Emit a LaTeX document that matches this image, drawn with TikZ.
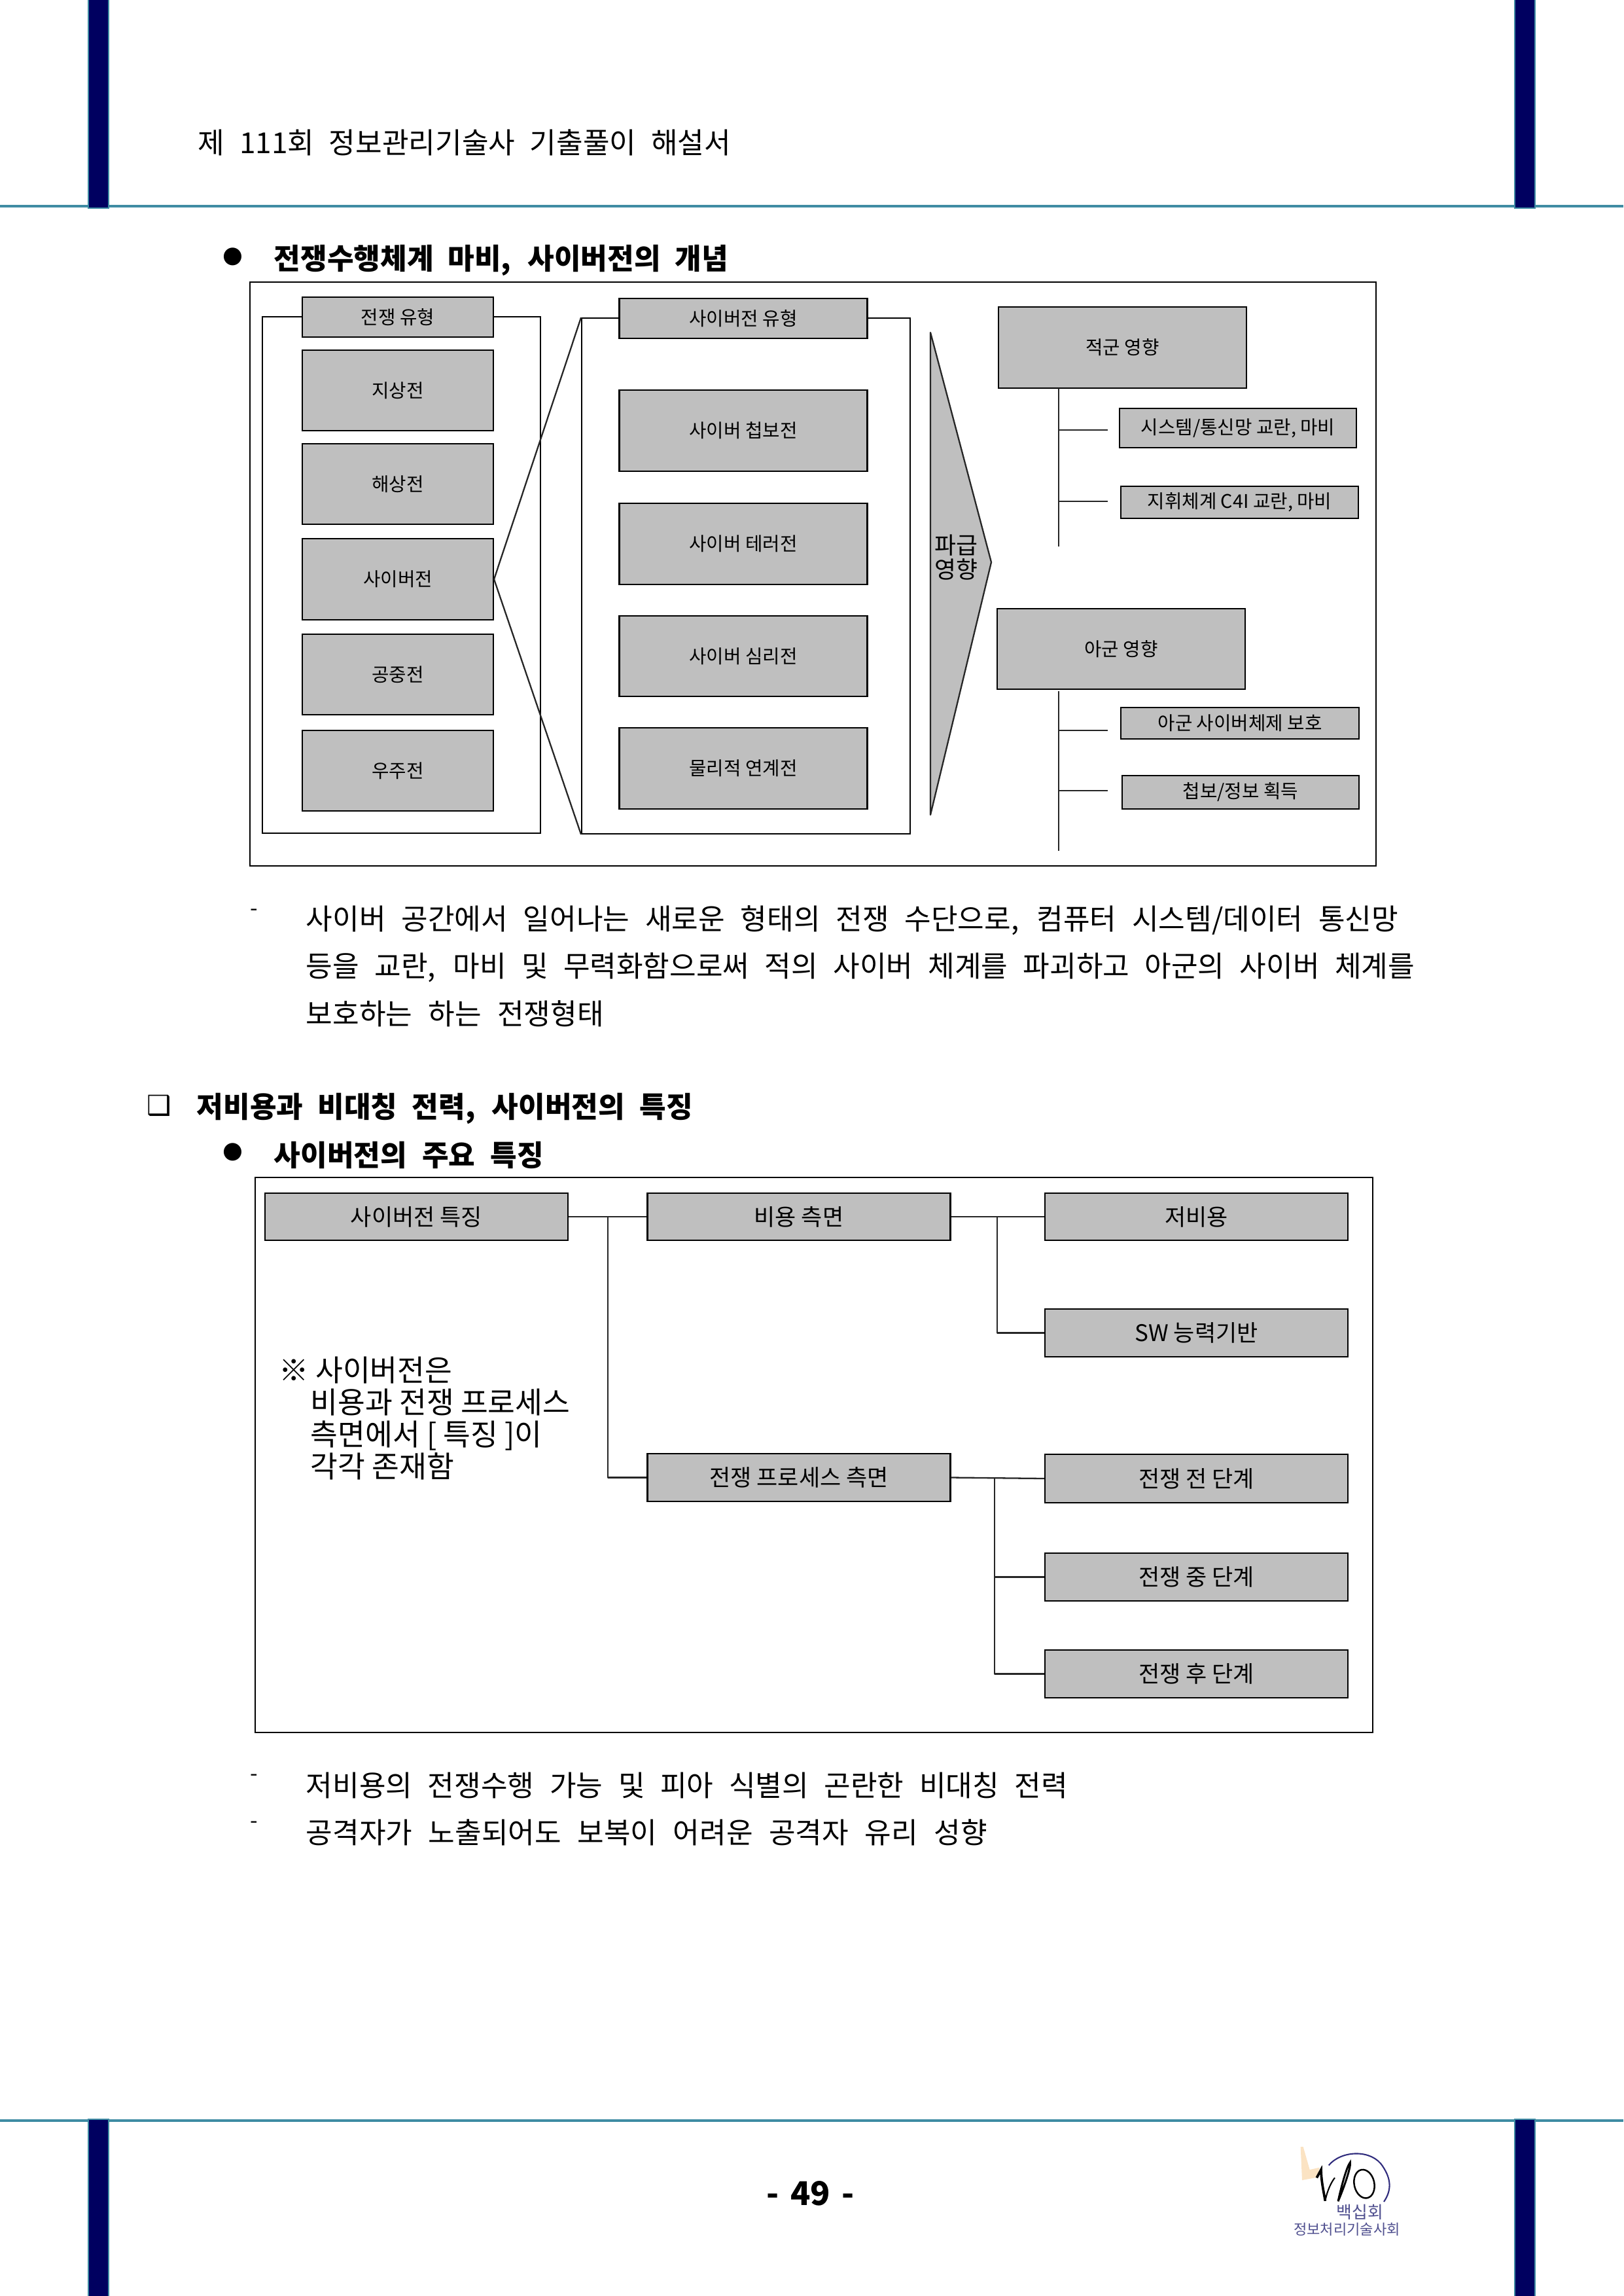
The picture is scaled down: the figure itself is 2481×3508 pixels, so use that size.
\documentclass[tikz,border=0pt]{standalone}
\usepackage{fontspec}
\setmainfont{Noto Sans CJK KR}
\newfontfamily\symfont{DejaVu Sans}
\usetikzlibrary{calc}
\definecolor{barnavy}{HTML}{000060}
\definecolor{barteal}{HTML}{3F8CA3}
\definecolor{cellgray}{HTML}{BFBFBF}
\definecolor{logoblue}{HTML}{2F2B7C}
\definecolor{logoink}{HTML}{50508F}
\definecolor{logosand}{HTML}{FBE3C3}

\begin{document}
\begin{tikzpicture}[x=0.24pt,y=-0.24pt,
  cell/.style={draw=black,fill=cellgray,line width=0.5pt,inner sep=0pt,align=center},
  cella/.style={cell,font=\fontsize{6.9}{8}\selectfont},
  cellb/.style={cell,font=\fontsize{8.4}{10}\selectfont},
  frame/.style={draw=black,line width=0.45pt,inner sep=0pt},
  panel/.style={draw=black,line width=0.7pt,inner sep=0pt},
  wire/.style={draw=black!85,line width=0.55pt,line join=round},
  body/.style={anchor=west,inner sep=0pt,font=\fontsize{10.6}{12}\selectfont},
  head/.style={body,font=\fontsize{10.6}{12}\selectfont\bfseries},
  rib/.style={fill=barnavy,draw=barteal,line width=0.5pt},
  rule/.style={draw=barteal,line width=0.9pt}]
  \useasboundingbox (0,0) rectangle (2481,3508);

  % page furniture
  \draw[rule] (0,315)--(2481,315);
  \draw[rule] (0,3240)--(2481,3240);
  \foreach \x in {135,2315}{
    \filldraw[rib] (\x,-5) rectangle ++(31,323);
    \filldraw[rib] (\x,3238) rectangle ++(31,275);
  }
  \node[body] (title) at (302,218) {\makebox[195.4pt][s]{제 111회 정보관리기술사 기출풀이 해설서}};
  \node[inner sep=0pt,font=\symfont\fontsize{8.5}{12}\selectfont] (dot1) at (356,392) {●};
  \node[head] (headA) at (418,398) {\makebox[166.6pt][s]{전쟁수행체계 마비, 사이버전의 개념}};

  % upper panel
  \begin{scope}[xshift=0.24pt]
  \node[panel,minimum width=1721*0.24pt,minimum height=892*0.24pt] (panelA) at (1241.5,877) {};
  \node[frame,minimum width=425*0.24pt,minimum height=789*0.24pt] (frameL) at (612.5,878.5) {};
  \node[frame,minimum width=502*0.24pt,minimum height=788*0.24pt] (frameM) at (1139,880) {};
  \foreach \n/\x/\y/\w/\h/\t in {
    kind/607/484.5/292/61/전쟁 유형, ground/607/596.5/292/123/지상전,
    sea/607/739.5/292/123/해상전, cyber/607/885/292/124/사이버전,
    air/607/1030.5/292/123/공중전, space/607/1177.5/292/123/우주전,
    ctype/1135/486.5/379/61/사이버전 유형, spy/1135/658/379/124/사이버 첩보전,
    terror/1135/831/379/124/사이버 테러전, psy/1135/1002.5/379/123/사이버 심리전,
    phys/1135/1174/379/124/물리적 연계전,
    enemy/1714.5/531/379/124/적군 영향, ally/1712.5/991.5/379/123/아군 영향,
    sys/1891/654/362/60/{시스템/통신망 교란, 마비}, cfour/1893.5/767.5/363/49/{지휘체계 C4I 교란, 마비},
    prot/1894/1105/364/48/아군 사이버체제 보호, intel/1895/1210.5/362/51/{첩보/정보 획득}}{
    \node[cella,minimum width=\w*0.24pt,minimum height=\h*0.24pt] (\n) at (\x,\y) {\raisebox{-1pt}{\t}};
  }
  \draw[wire] (cyber.east)--(frameM.north west);
  \draw[wire] (cyber.east)--(frameM.south west);
  \filldraw[wire,fill=cellgray] (1421,508)--(1514,859)--(1421,1245)--cycle;
  \node[inner sep=0pt,align=center,font=\fontsize{8.6}{8.9}\selectfont] (spread) at (1460,852) {파급\\영향};
  \coordinate (etop) at (1617,593);
  \coordinate (ebot) at (1617,835);
  \coordinate (atop) at (1617,1056);
  \coordinate (abot) at (1617,1300);
  \draw[wire] (etop)--(ebot);
  \draw[wire] (atop)--(abot);
  \foreach \n/\y in {ea/657,eb/766,aa/1116,ab/1208}{
    \coordinate (\n l) at (1617,\y);
    \coordinate (\n r) at (1692,\y);
    \draw[wire] (\n l)--(\n r);
  }
  \end{scope}

  \node[inner sep=0pt,font=\fontsize{8}{9}\selectfont] (dashA) at (388,1394) {-};
  \node[body] (lineA) at (467,1406) {\makebox[400.6pt][s]{사이버 공간에서 일어나는 새로운 형태의 전쟁 수단으로, 컴퓨터 시스템/데이터 통신망}};
  \node[body] (lineB) at (467,1478) {\makebox[406.6pt][s]{등을 교란, 마비 및 무력화함으로써 적의 사이버 체계를 파괴하고 아군의 사이버 체계를}};
  \node[body] (lineC) at (467,1549) {\makebox[109.2pt][s]{보호하는 하는 전쟁형태}};

  \node[inner sep=0pt,font=\symfont\fontsize{10}{12}\selectfont] (boxB) at (243,1689) {❑};
  \node[head] (headB) at (300,1694) {\makebox[181.9pt][s]{저비용과 비대칭 전력, 사이버전의 특징}};
  \node[inner sep=0pt,font=\symfont\fontsize{8.5}{12}\selectfont] (dot2) at (356,1760) {●};
  \node[head] (headC) at (418,1765) {\makebox[98.9pt][s]{사이버전의 주요 특징}};

  % lower panel
  \begin{scope}[xshift=0.24pt]
  \node[panel,minimum width=1708*0.24pt,minimum height=848*0.24pt] (panelB) at (1243,2223) {};
  \foreach \n/\x/\y/\h/\t in {
    feat/635.5/1859/72/사이버전 특징, cost/1220/1859/72/비용 측면, low/1827.5/1859/72/저비용,
    sw/1827.5/2036.5/73/SW 능력기반, proc/1220/2257.5/73/전쟁 프로세스 측면,
    pre/1827.5/2259/74/전쟁 전 단계, during/1827.5/2409.5/73/전쟁 중 단계, post/1827.5/2557.5/73/전쟁 후 단계}{
    \node[cellb,minimum width=463*0.24pt,minimum height=\h*0.24pt] (\n) at (\x,\y) {\raisebox{-1pt}{\t}};
  }
  \coordinate (forkA) at (928,1859);
  \coordinate (forkB) at (1523,1859);
  \coordinate (forkC) at (1519,2258);
  \draw[wire] (feat.east)--(cost.west);
  \draw[wire] (forkA) |- (proc.west);
  \draw[wire] (cost.east)--(low.west);
  \draw[wire] (forkB) |- (sw.west);
  \draw[wire] (proc.east)--(pre.west);
  \draw[wire] (forkC) |- (during.west);
  \draw[wire] (forkC) |- (post.west);
  \end{scope}
  \node[anchor=north west,inner sep=0pt,align=left,font=\fontsize{10.9}{11.75}\selectfont] (noteB) at (426,2072)
    {※ 사이버전은\\\hspace*{11.5pt}비용과 전쟁 프로세스\\\hspace*{11.5pt}측면에서 [ 특징 ]이\\\hspace*{11.5pt}각각 존재함};

  \node[inner sep=0pt,font=\fontsize{8}{9}\selectfont] (dashB) at (388,2716) {-};
  \node[body] (lineD) at (467,2728) {\makebox[279.4pt][s]{저비용의 전쟁수행 가능 및 피아 식별의 곤란한 비대칭 전력}};
  \node[inner sep=0pt,font=\fontsize{8}{9}\selectfont] (dashC) at (388,2788) {-};
  \node[body] (lineE) at (467,2800) {\makebox[249.8pt][s]{공격자가 노출되어도 보복이 어려운 공격자 유리 성향}};

  \node[inner sep=0pt,font=\fontsize{12}{13}\selectfont\bfseries] (pageno) at (1239,3351) {\makebox[32.2pt][s]{- 49 -}};

  % logo
  \begin{scope}[shift={(1900,3200)},x=0.08pt,y=-0.08pt]
    \fill[logosand] (263,240)--(275,240)--(305,345)--(350,335)--(340,380)--(270,393)--cycle;
    \draw[logoblue,line width=0.5pt] (392,325) .. controls (450,255) and (590,250) .. (640,330) .. controls (680,390) and (680,440) .. (645,492);
    \draw[black,line width=0.9pt] (337,382)--(357,345) .. controls (358,400) and (368,440) .. (376,488);
    \draw[black,line width=0.5pt] (376,488) .. controls (385,440) and (405,400) .. (420,382);
    \draw[black,line width=0.7pt] (435,490) .. controls (450,420) and (475,330) .. (490,312) .. controls (495,330) and (465,420) .. (435,490);
    \draw[black,line width=0.6pt,rotate around={12:(555,410)}] (555,410) ellipse (46 and 66);
    \node[inner sep=0pt,text=logoink,font=\fontsize{6.2}{7}\selectfont] (logoA) at (535,540) {백십회};
    \node[inner sep=0pt,text=logoink,font=\fontsize{5.3}{6}\selectfont] (logoB) at (475,620) {정보처리기술사회};
  \end{scope}
\end{tikzpicture}
\end{document}
